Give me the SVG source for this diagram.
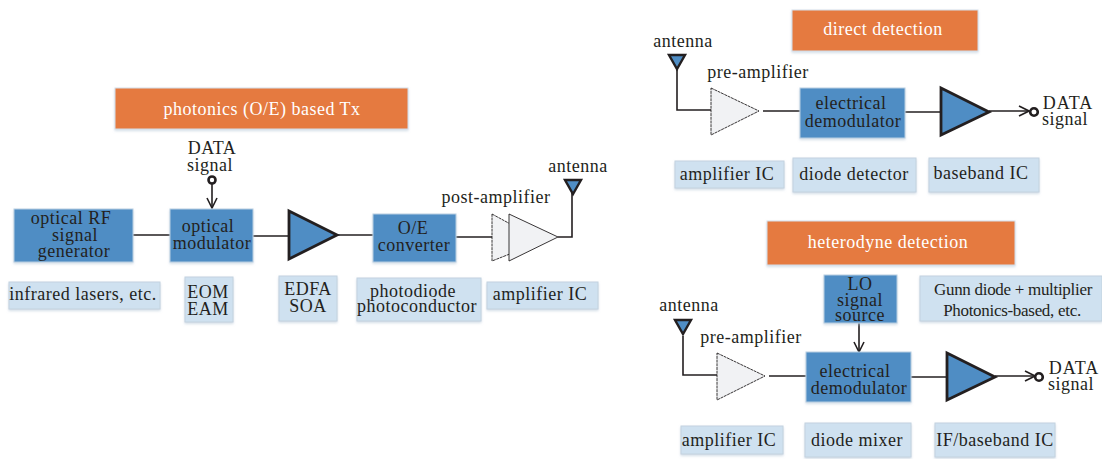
<svg xmlns="http://www.w3.org/2000/svg" width="1102" height="459" viewBox="0 0 1102 459">
<defs>
<filter id="sh" x="-10%" y="-10%" width="120%" height="125%"><feDropShadow dx="0" dy="1.5" stdDeviation="1.2" flood-color="#b8c8d8" flood-opacity="0.6"/></filter>
<marker id="ah" viewBox="0 0 12 12" refX="11" refY="6" markerWidth="12" markerHeight="12" markerUnits="userSpaceOnUse" orient="auto"><path d="M1 1L11 6L1 11" fill="none" stroke="#231f20" stroke-width="1.6"/></marker>
</defs>
<style>
text{font-family:"Liberation Serif","Times New Roman",serif;font-size:18px;letter-spacing:.5px;fill:#231f20;text-anchor:middle}
.t{fill:#e57a41;stroke:#d5dfe9;stroke-width:1;filter:url(#sh)}
.t+text{fill:#fff}
.b{fill:#4f8dc4;stroke:#b9cfe2;stroke-width:1;filter:url(#sh)}
.l{fill:#cfe1f0;stroke:#c3d2df;stroke-width:1;filter:url(#sh)}
.a{fill:#4f8dc4;stroke:#231f20;stroke-width:2.8;stroke-linejoin:miter}
.p{fill:#f1f2f4;stroke:#231f20;stroke-width:.9;stroke-dasharray:3 .7}
.s{fill:#f1f2f4;stroke:#231f20;stroke-width:.9}
.c{fill:none;stroke:#231f20;stroke-width:1.6}
.o{fill:#fff;stroke:#231f20;stroke-width:2.6}
.an{fill:#4f8dc4;stroke:#231f20;stroke-width:2.4}
.g{font-size:17px;letter-spacing:-.3px}
</style>
<g id="connectors">
<path class="c" d="M133 235H171"/>
<path class="c" d="M252 236H289"/>
<path class="c" d="M338 235H375"/>
<path class="c" d="M455 237H497"/>
<path class="c" d="M558 237H572V186"/>
<path class="c" d="M212 181V208" marker-end="url(#ah)"/>
<path class="c" d="M677 70V110H711"/>
<path class="c" d="M763 111H800"/>
<path class="c" d="M904 112H941"/>
<path class="c" d="M989 111H1029" marker-end="url(#ah)"/>
<path class="c" d="M683 336V375H717"/>
<path class="c" d="M769 376H806"/>
<path class="c" d="M910 377H947"/>
<path class="c" d="M995 376H1035" marker-end="url(#ah)"/>
<path class="c" d="M859 323V352" marker-end="url(#ah)"/>
</g>
<g id="title-tx"><rect class="t" x="115" y="88" width="293" height="41"/><text x="262" y="115">photonics (O/E) based Tx</text></g>
<g id="data-in"><text x="212" y="154">DATA</text><text x="210" y="171">signal</text><circle class="o" cx="212" cy="180" r="3.5"/></g>
<g id="rf-gen"><rect class="b" x="14" y="209" width="119" height="53"/><text x="71" y="224">optical RF</text><text x="75" y="241">signal</text><text x="74" y="257">generator</text></g>
<g id="modulator"><rect class="b" x="170" y="209" width="83" height="53"/><text x="208" y="232">optical</text><text x="212" y="249">modulator</text></g>
<g id="edfa"><path class="a" d="M289 211L337 235L289 259Z"/></g>
<g id="oe"><rect class="b" x="373" y="214" width="83" height="48"/><text x="413" y="234">O/E</text><text x="414" y="251">converter</text></g>
<g id="post-amp"><path class="p" d="M492 214L525 232V248L492 261Z"/><path class="s" d="M509 214L558 237L509 261Z"/><text x="496" y="203">post-amplifier</text></g>
<g id="ant-tx"><text x="578" y="172">antenna</text><path class="an" d="M565 180H581L573 194Z"/></g>
<g id="l-lasers"><rect class="l" x="9" y="282" width="151" height="27"/><text x="83" y="300">infrared lasers, etc.</text></g>
<g id="l-eom"><rect class="l" x="185" y="277" width="48" height="45"/><text x="208" y="298">EOM</text><text x="208" y="315">EAM</text></g>
<g id="l-edfa"><rect class="l" x="279" y="276" width="58" height="45"/><text x="308" y="295">EDFA</text><text x="308" y="312">SOA</text></g>
<g id="l-pd"><rect class="l" x="357" y="278" width="124" height="43"/><text x="413" y="297">photodiode</text><text x="417" y="312">photoconductor</text></g>
<g id="l-amp"><rect class="l" x="487" y="282" width="111" height="27"/><text x="540" y="300">amplifier IC</text></g>

<g id="title-dd"><rect class="t" x="792" y="10" width="186" height="41"/><text x="883" y="35">direct detection</text></g>
<g id="ant-dd"><text x="683" y="47">antenna</text><path class="an" d="M669 55H685L677 69Z"/></g>
<g id="pre-dd"><path class="p" d="M711 88L759 111L711 135Z"/><text x="758" y="78">pre-amplifier</text></g>
<g id="demod-dd"><rect class="b" x="800" y="88" width="105" height="50"/><text x="851" y="109">electrical</text><text x="853" y="127">demodulator</text></g>
<g id="amp-dd"><path class="a" d="M941 88L989 112L941 135Z"/></g>
<g id="out-dd"><circle class="o" cx="1034" cy="112" r="3.8"/><text x="1068" y="109" style="letter-spacing:1px">DATA</text><text x="1065" y="125">signal</text></g>
<g id="l-amp-dd"><rect class="l" x="675" y="161" width="109" height="27"/><text x="727" y="180">amplifier IC</text></g>
<g id="l-dd"><rect class="l" x="793" y="158" width="123" height="34"/><text x="854" y="180">diode detector</text></g>
<g id="l-bb"><rect class="l" x="929" y="158" width="110" height="34"/><text x="981" y="179">baseband IC</text></g>

<g id="title-het"><rect class="t" x="767" y="221" width="248" height="44"/><text x="888" y="248">heterodyne detection</text></g>
<g id="lo"><rect class="b" x="824" y="275" width="73" height="48"/><text x="860" y="290">LO</text><text x="860" y="306">signal</text><text x="860" y="321">source</text></g>
<g id="l-gunn"><rect class="l" x="920" y="276" width="182" height="45"/><text class="g" x="1013" y="295">Gunn diode + multiplier</text><text class="g" x="1012" y="316">Photonics-based, etc.</text></g>
<g id="ant-het"><text x="689" y="311">antenna</text><path class="an" d="M675 320H691L683 334Z"/></g>
<g id="pre-het"><path class="p" d="M717 353L765 376L717 400Z"/><text x="751" y="343">pre-amplifier</text></g>
<g id="demod-het"><rect class="b" x="806" y="352" width="105" height="50"/><text x="855" y="377">electrical</text><text x="859" y="394">demodulator</text></g>
<g id="amp-het"><path class="a" d="M947 353L995 377L947 400Z"/></g>
<g id="out-het"><circle class="o" cx="1039" cy="377" r="3.8"/><text x="1074" y="374" style="letter-spacing:1px">DATA</text><text x="1071" y="390">signal</text></g>
<g id="l-amp-het"><rect class="l" x="681" y="426" width="102" height="28"/><text x="729" y="446">amplifier IC</text></g>
<g id="l-mixer"><rect class="l" x="805" y="423" width="106" height="34"/><text x="857" y="446">diode mixer</text></g>
<g id="l-if"><rect class="l" x="935" y="423" width="120" height="34"/><text x="995" y="446">IF/baseband IC</text></g>
</svg>
